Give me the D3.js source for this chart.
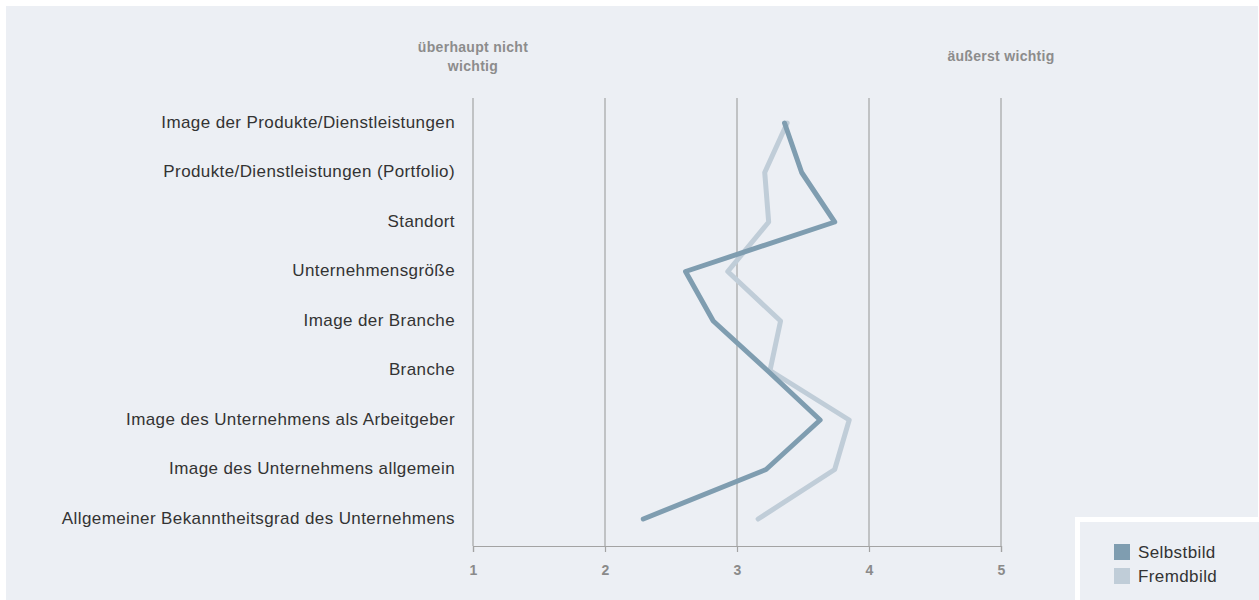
<!DOCTYPE html>
<html>
<head>
<meta charset="utf-8">
<script src="https://cdn.jsdelivr.net/npm/d3@7"></script>
<style>
  body { margin: 0; background: #fff; }
  svg { display: block; font-family: "Liberation Sans", Arial, sans-serif; }
</style>
</head>
<body>
<svg id="chart" width="1259" height="600"></svg>
<script>
// Daten
const categories = [
    "Image der Produkte/Dienstleistungen",
    "Produkte/Dienstleistungen (Portfolio)",
    "Standort",
    "Unternehmensgröße",
    "Image der Branche",
    "Branche",
    "Image des Unternehmens als Arbeitgeber",
    "Image des Unternehmens allgemein",
    "Allgemeiner Bekanntheitsgrad des Unternehmens"
];
const selbstbild = [3.36, 3.49, 3.74, 2.61, 2.82, 3.23, 3.63, 3.22, 2.29];
const fremdbild  = [3.38, 3.21, 3.24, 2.93, 3.33, 3.25, 3.85, 3.74, 3.16];
const ticks = [1, 2, 3, 4, 5];
const seriesNames = ["Selbstbild", "Fremdbild"];
const seriesColors = ["#7f9db0", "#c0cdd8"];

const svg = d3.select("#chart");
const bg = "#eceff4";

// Hintergrund
svg.append("rect").attr("x", 6).attr("y", 6).attr("width", 1252).attr("height", 594).attr("fill", bg);

const x = d3.scaleLinear().domain([1, 5]).range([473, 1001]);
const y = d3.scalePoint().domain(categories).range([123, 519]);

const g = svg.append("g");

// Gitterlinien
g.selectAll(".grid")
    .data(ticks)
    .join("line")
    .attr("x1", d => x(d)).attr("x2", d => x(d))
    .attr("y1", 98).attr("y2", 546)
    .attr("stroke", "#a3a3a3").attr("stroke-width", 1.2);

// Achse
const axis = g.append("g")
    .attr("transform", "translate(0,546)")
    .call(d3.axisBottom(x).tickValues(ticks).tickSize(6).tickPadding(13).tickFormat(d3.format("d")));
axis.select(".domain").attr("stroke", "#a3a3a3").attr("stroke-width", 1.2);
axis.selectAll(".tick line").attr("stroke", "#a3a3a3").attr("stroke-width", 1.2);
axis.selectAll(".tick text")
    .attr("fill", "#8a8a8a").attr("font-size", 14).attr("font-weight", "bold")
    .attr("font-family", "Liberation Sans, Arial, sans-serif");

// Kategorien
g.selectAll(".cat")
    .data(categories)
    .join("text")
    .attr("x", 455)
    .attr("y", d => y(d) - 1)
    .attr("dy", "0.35em")
    .attr("text-anchor", "end")
    .attr("font-size", 17)
    .attr("letter-spacing", 0.4)
    .attr("fill", "#333")
    .text(d => d);

// Kopfzeilen
const header = g.append("g").attr("font-size", 14).attr("font-weight", "bold")
    .attr("fill", "#8c8c8c").attr("text-anchor", "middle").attr("letter-spacing", 0.3);
header.append("text").attr("x", x(1)).attr("y", 52).text("überhaupt nicht");
header.append("text").attr("x", x(1)).attr("y", 71).text("wichtig");
header.append("text").attr("x", x(5)).attr("y", 61).text("äußerst wichtig");

// Linien
const line = d3.line()
    .x(d => x(d[1]))
    .y(d => y(d[0]));

[fremdbild, selbstbild].forEach((vals, i) => {
    const col = i === 0 ? seriesColors[1] : seriesColors[0];
    g.append("path")
        .datum(categories.map((c, j) => [c, vals[j]]))
        .attr("d", line)
        .attr("fill", "none")
        .attr("stroke", col)
        .attr("stroke-width", 5)
        .attr("stroke-linecap", "round")
        .attr("stroke-linejoin", "round");
});

// Legende
svg.append("rect").attr("x", 1077.5).attr("y", 519.5).attr("width", 190).attr("height", 90)
    .attr("fill", bg).attr("stroke", "#fff").attr("stroke-width", 5);

const legend = svg.append("g").attr("transform", "translate(1114,544)");
seriesNames.forEach((name, i) => {
    legend.append("rect").attr("x", 0).attr("y", i * 24).attr("width", 16).attr("height", 16).attr("fill", seriesColors[i]);
    legend.append("text").attr("x", 24).attr("y", i * 24 + 14)
        .attr("font-size", 17).attr("letter-spacing", 0.4).attr("fill", "#333").text(name);
});
</script>
</body>
</html>
